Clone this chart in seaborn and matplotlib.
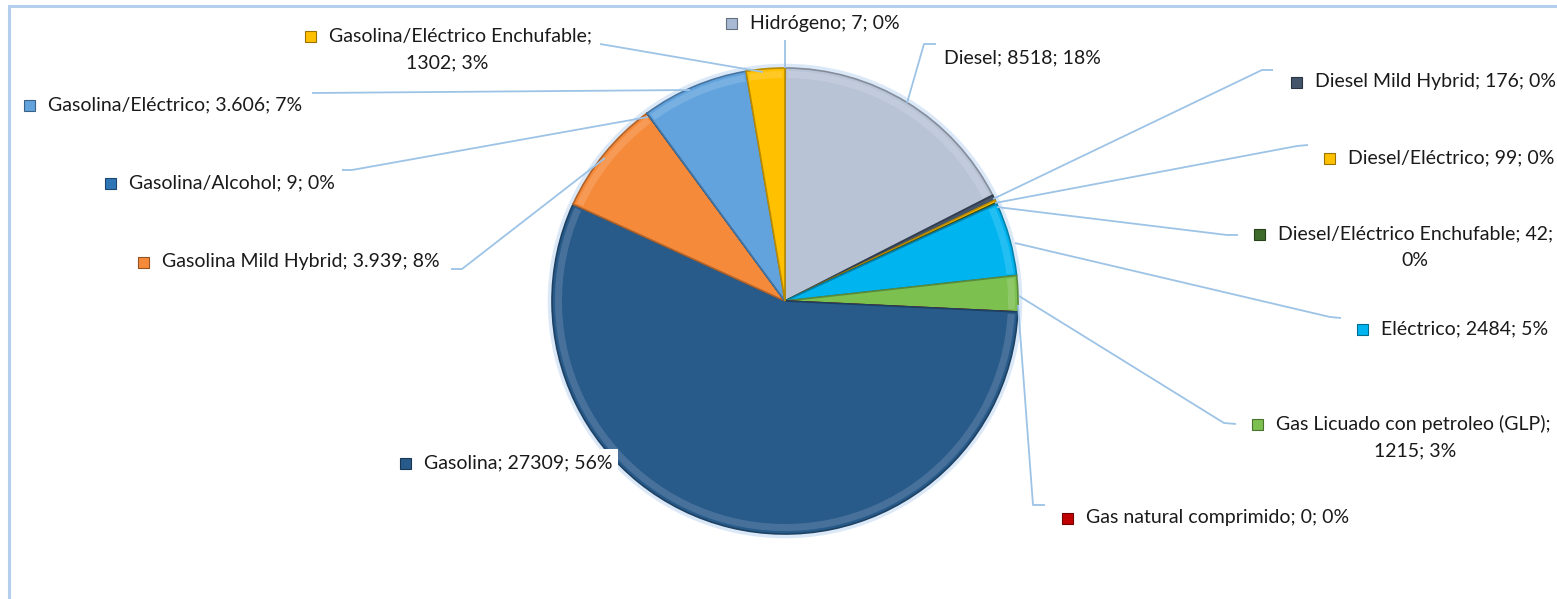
import numpy as np
import matplotlib
matplotlib.use("Agg")
import matplotlib.pyplot as plt
import seaborn as sns
from matplotlib.patches import Rectangle, Circle, Wedge

# ---------------- data ----------------
categories = [
    "Hidrógeno", "Diesel", "Diesel Mild Hybrid", "Diesel/Eléctrico",
    "Diesel/Eléctrico Enchufable", "Eléctrico", "Gas Licuado con petroleo (GLP)",
    "Gas natural comprimido", "Gasolina", "Gasolina Mild Hybrid",
    "Gasolina/Alcohol", "Gasolina/Eléctrico", "Gasolina/Eléctrico Enchufable",
]
values = [7, 8518, 176, 99, 42, 2484, 1215, 0, 27309, 3939, 9, 3606, 1302]
value_labels = ["7", "8518", "176", "99", "42", "2484", "1215", "0", "27309",
                "3.939", "9", "3.606", "1302"]
percent_labels = ["0%", "18%", "0%", "0%", "0%", "5%", "3%", "0%", "56%",
                  "8%", "0%", "7%", "3%"]
colors = ["#A7B9D3", "#B8C3D6", "#44546A", "#FFC000", "#3F6B2A", "#00B4F0",
          "#7CC04F", "#C00000", "#285A8A", "#F58A3A", "#2E75B6", "#62A3DE",
          "#FFC000"]

# ---------------- layout (pixel coords, y down) ----------------
W, H = 1557, 599
def P(x, y):
    return x, H - y

label_layout = {
    "Hidrógeno": dict(x=726, y=23),
    "Diesel": dict(x=944, y=58, marker=False),
    "Diesel Mild Hybrid": dict(x=1291, y=82),
    "Diesel/Eléctrico": dict(x=1324, y=158),
    "Diesel/Eléctrico Enchufable": dict(x=1254, y=234, split=2, cx=1415),
    "Eléctrico": dict(x=1357, y=329),
    "Gas Licuado con petroleo (GLP)": dict(x=1252, y=424, split=1, cx=1415),
    "Gas natural comprimido": dict(x=1062, y=518),
    "Gasolina": dict(x=400, y=463, box=True),
    "Gasolina Mild Hybrid": dict(x=138, y=262),
    "Gasolina/Alcohol": dict(x=105, y=183),
    "Gasolina/Eléctrico": dict(x=24, y=105),
    "Gasolina/Eléctrico Enchufable": dict(x=305, y=36, split=1, cx=447),
}
leaders = {
    "Hidrógeno": [(785, 40), (785, 68)],
    "Diesel": [(936, 44), (924, 44), (907, 103)],
    "Diesel Mild Hybrid": [(1273, 70), (1262, 70), (993, 199)],
    "Diesel/Eléctrico": [(1308, 145), (1297, 146), (995, 203)],
    "Diesel/Eléctrico Enchufable": [(1238, 235), (1227, 235), (997, 207)],
    "Eléctrico": [(1341, 318), (1330, 317), (1015, 243)],
    "Gas Licuado con petroleo (GLP)": [(1236, 424), (1224, 423), (1019, 296)],
    "Gas natural comprimido": [(1045, 505), (1033, 505), (1018, 305)],
    "Gasolina Mild Hybrid": [(451, 269), (462, 269), (605, 158)],
    "Gasolina/Alcohol": [(342, 170), (352, 170), (648, 117)],
    "Gasolina/Eléctrico": [(312, 93), (690, 90)],
    "Gasolina/Eléctrico Enchufable": [(600, 44), (612, 46), (763, 72)],
}

# ---------------- figure ----------------
sns.set_theme(style="white")
plt.rcParams["font.family"] = ["Lato", "DejaVu Sans"]

fig = plt.figure(figsize=(W / 100, H / 100), dpi=100)
ax = fig.add_axes([0, 0, 1, 1])

cx, cy = P(785, 301)
R = 233

def darker(c, f=0.72):
    r, g, b = matplotlib.colors.to_rgb(c)
    return (r * f, g * f, b * f)

def lighter(c, f=0.35):
    r, g, b = matplotlib.colors.to_rgb(c)
    return (r + (1 - r) * f, g + (1 - g) * f, b + (1 - b) * f)

# halo
ax.add_patch(Circle((cx, cy), R + 1.5, facecolor="none", edgecolor="#D3E3F5",
                    linewidth=4, alpha=0.8, zorder=1))

wedges, _ = ax.pie(values, colors=colors, startangle=90, counterclock=False,
                   center=(cx, cy), radius=R, frame=True,
                   wedgeprops=dict(linewidth=1.2, zorder=2))
for w, c in zip(wedges, colors):
    w.set_edgecolor(darker(c))
    w.set_zorder(2)
    # subtle bevel: lighter rim near outer edge
    if w.theta2 - w.theta1 > 1.0:
        ax.add_patch(Wedge((cx, cy), R - 3, w.theta1 + 0.6, w.theta2 - 0.6,
                           width=7, facecolor=lighter(c, 0.18),
                           edgecolor="none", alpha=0.8, zorder=2.5))

ax.set_xlim(0, W)
ax.set_ylim(0, H)
ax.set_aspect("equal")
ax.axis("off")

# chart border
ax.add_patch(Rectangle((9, -10), W + 20, H + 10 - 6, fill=False,
                       edgecolor="#B4CFEE", linewidth=2.2, zorder=0,
                       clip_on=False))

# leader lines
for name, pts in leaders.items():
    xs = [p[0] for p in pts]
    ys = [H - p[1] for p in pts]
    ax.plot(xs, ys, color="#9DC3E6", linewidth=1.3, zorder=3,
            solid_capstyle="butt")

# labels
fs = 14
for name, v, p, c in zip(categories, value_labels, percent_labels, colors):
    lay = label_layout[name]
    mx, my = lay["x"], lay["y"]
    full = f"{name}; {v}; {p}"
    split = lay.get("split")
    if split:
        parts = [name, v, p]
        line1 = "; ".join(parts[:split]) + ";"
        line2 = "; ".join(parts[split:])
    has_marker = lay.get("marker", True)
    if has_marker:
        ax.add_patch(Rectangle((mx, H - my - 6), 11, 11, facecolor=c,
                               edgecolor=darker(c, 0.6), linewidth=0.8,
                               zorder=6))
    tx = mx + 24 if has_marker else mx
    if split:
        ax.text(tx, H - my, line1, fontsize=fs, ha="left", va="center",
                color="#1A1A1A", zorder=6)
        ax.text(lay["cx"], H - my - 27, line2, fontsize=fs, ha="center",
                va="center", color="#1A1A1A", zorder=6)
    else:
        kw = {}
        if lay.get("box"):
            kw["bbox"] = dict(boxstyle="square,pad=0.3", facecolor="white",
                              edgecolor="none")
        ax.text(tx, H - my, full, fontsize=fs, ha="left", va="center",
                color="#1A1A1A", zorder=5, **kw)

fig.savefig("out.png", dpi=100)
